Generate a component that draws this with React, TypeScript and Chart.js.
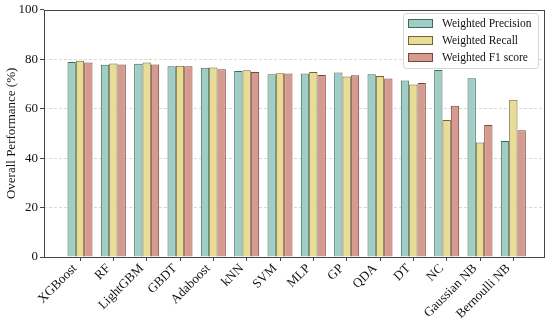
import React, { useEffect, useRef } from "react";
import { Chart, registerables } from "chart.js";

Chart.register(...registerables);

const categories = ["XGBoost", "RF", "LightGBM", "GBDT", "Adaboost", "kNN", "SVM", "MLP", "GP", "QDA", "DT", "NC", "Gaussian NB", "Bernoulli NB"];
const precision = [78.9, 77.8, 78.2, 77.2, 76.6, 75.2, 73.9, 74.2, 74.6, 73.9, 71.4, 75.6, 72.3, 46.9];
const recall = [79.4, 78.3, 78.7, 77.4, 76.7, 75.5, 74.3, 74.8, 73.0, 73.2, 69.8, 55.4, 46.3, 63.6];
const f1 = [78.7, 77.9, 77.9, 77.2, 76.0, 74.8, 74.2, 73.6, 73.5, 72.2, 70.4, 61.2, 53.4, 51.3];
const seriesNames = ["Weighted Precision", "Weighted Recall", "Weighted F1 score"];
const yTicks = [0, 20, 40, 60, 80, 100];

const FONT = "'Liberation Serif', 'Times New Roman', serif";
const fills = ["#a0cec4", "#e9dc94", "#d79a8f"];
const edges = ["#3e6a5e", "#6e6434", "#7a4640"];

const framePlugin = {
  id: "frameAndLegend",
  afterDatasetsDraw(chart: any) {
    const { ctx, chartArea } = chart;
    ctx.save();
    ctx.strokeStyle = "#444";
    ctx.lineWidth = 1;
    ctx.strokeRect(Math.round(chartArea.left) + 0.5, Math.round(chartArea.top) + 0.5, Math.round(chartArea.right - chartArea.left) - 1, Math.round(chartArea.bottom - chartArea.top));
    ctx.restore();
  },
  afterDraw(chart: any) {
    const { ctx } = chart;
    const x0 = 403, y0 = 13, w = 135, h = 55;
    ctx.save();
    ctx.fillStyle = "rgba(255,255,255,0.85)";
    ctx.strokeStyle = "#d4d4d4";
    ctx.lineWidth = 1;
    ctx.beginPath();
    (ctx as any).roundRect(x0 + 0.5, y0 + 0.5, w, h, 3);
    ctx.fill();
    ctx.stroke();
    ctx.font = "11.5px " + FONT;
    ctx.textBaseline = "middle";
    ctx.textAlign = "left";
    chart.data.datasets.forEach((ds: any, i: number) => {
      const cy = 23.5 + i * 17;
      ctx.fillStyle = ds.backgroundColor;
      ctx.strokeStyle = ds.borderColor;
      ctx.fillRect(408.5, cy - 4, 24, 8);
      ctx.strokeRect(408.5, cy - 4, 24, 8);
      ctx.fillStyle = "#111";
      ctx.fillText(ds.label, 442, cy + 0.5);
    });
    ctx.restore();
  },
};

export default function App() {
  const ref = useRef<HTMLCanvasElement>(null);
  useEffect(() => {
    document.body.style.margin = "0";
    const series = [precision, recall, f1];
    const chart = new Chart(ref.current as HTMLCanvasElement, {
      type: "bar",
      data: {
        datasets: series.map((vals, i) => ({
          label: seriesNames[i],
          data: vals.map((v, j) => ({ x: j, y: v })),
          backgroundColor: fills[i],
          borderColor: edges[i],
          borderWidth: 1,
          categoryPercentage: 0.75,
          barPercentage: 1.0,
        })),
      },
      options: {
        responsive: false,
        animation: false,
        layout: { padding: { top: 8, right: 5, left: 0, bottom: 0 } },
        plugins: { legend: { display: false }, tooltip: { enabled: false } },
        scales: {
          x: {
            type: "linear",
            offset: false,
            min: -1.08,
            max: 13.95,
            afterBuildTicks: (s: any) => {
              s.ticks = categories.map((_, i) => ({ value: i }));
            },
            afterFit: (s: any) => {
              s.height = 67;
            },
            ticks: {
              autoSkip: false,
              minRotation: 45,
              maxRotation: 45,
              padding: 0,
              labelOffset: -5,
              color: "#111",
              font: { family: FONT, size: 13 },
              callback: (v: any) => categories[v as number] ?? "",
            },
            grid: { offset: false, drawOnChartArea: false, drawTicks: true, tickLength: 4, tickColor: "#444" },
            border: { display: false },
          },
          y: {
            min: 0,
            max: 100,
            afterBuildTicks: (s: any) => {
              s.ticks = yTicks.map((v) => ({ value: v }));
            },
            afterFit: (s: any) => {
              s.width = 44;
            },
            ticks: {
              padding: 2,
              color: "#111",
              font: { family: FONT, size: 13 },
            },
            grid: {
              color: (c: any) => (c.tick && (c.tick.value === 0 || c.tick.value === 100) ? "rgba(0,0,0,0)" : "#cfcfcf"),
              lineWidth: 0.8,
              tickLength: 4,
              tickColor: "#444",
              tickWidth: 1,
            },
            border: { display: false, dash: [3, 2] },
            title: {
              display: true,
              text: "Overall Performance (%)",
              color: "#111",
              font: { family: FONT, size: 13 },
              padding: { top: 4, bottom: 0 },
            },
          },
        },
      },
      plugins: [framePlugin],
    } as any);
    return () => chart.destroy();
  }, []);
  return (
    <div style={{ position: "absolute", left: 0, top: 0, width: 550, height: 324, background: "#fff" }}>
      <canvas ref={ref} width={550} height={324} />
    </div>
  );
}
